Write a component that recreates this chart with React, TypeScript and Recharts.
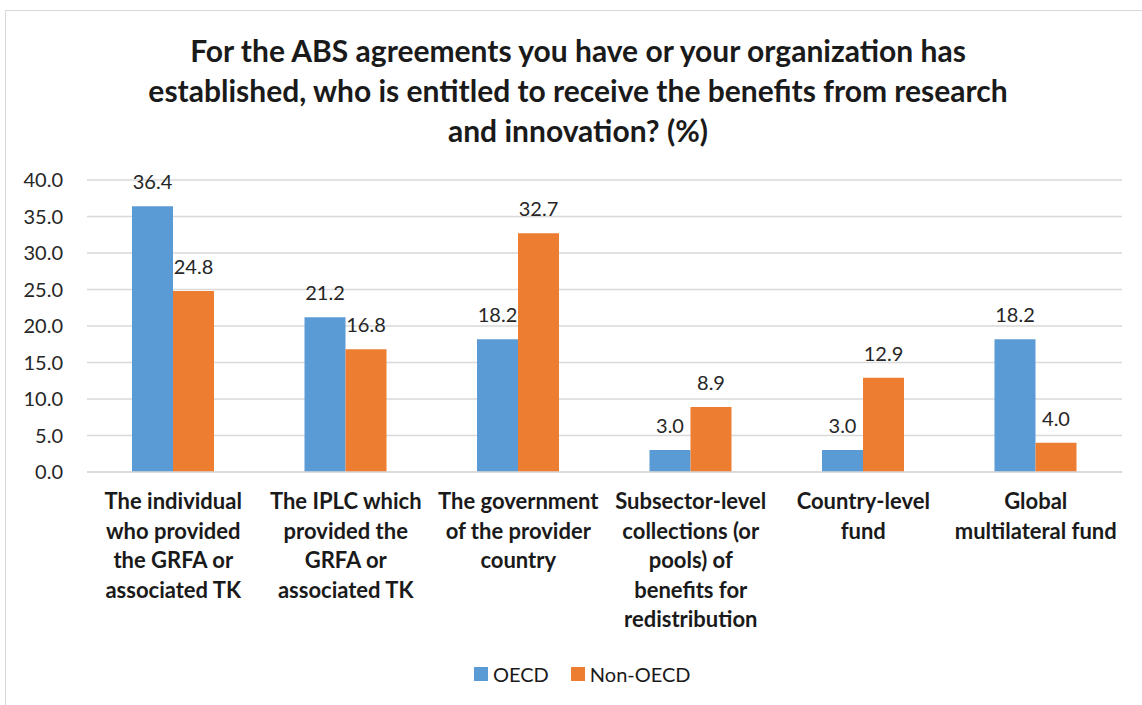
import { BarChart, Bar, XAxis, YAxis, CartesianGrid, LabelList, Legend } from "recharts";

const categories = [
  "The individual\nwho provided\nthe GRFA or\nassociated TK",
  "The IPLC which\nprovided the\nGRFA or\nassociated TK",
  "The government\nof the provider\ncountry",
  "Subsector-level\ncollections (or\npools) of\nbenefits for\nredistribution",
  "Country-level\nfund",
  "Global\nmultilateral fund",
];
const oecd = [36.4, 21.2, 18.2, 3.0, 3.0, 18.2];
const nonOecd = [24.8, 16.8, 32.7, 8.9, 12.9, 4.0];
const yTicks = [0, 5, 10, 15, 20, 25, 30, 35, 40];
const titleLines = [
  "For the ABS agreements you have or your organization has",
  "established, who is entitled to receive the benefits from research",
  "and innovation? (%)",
];

const BLUE = "#5B9BD5";
const ORANGE = "#ED7D31";

const data = categories.map((c, i) => ({ name: c, oecd: oecd[i], nonOecd: nonOecd[i] }));

function CategoryTick(props: any) {
  const { x, y, payload } = props;
  const lines = String(payload.value).split("\n");
  return (
    <text x={x} y={y} textAnchor="middle" fontSize={22} fontWeight={700} fill="#1a1a1a">
      {lines.map((l, i) => (
        <tspan key={i} x={x} dy={i === 0 ? 29 : 29.5}>
          {l}
        </tspan>
      ))}
    </text>
  );
}

function LegendBox() {
  const items = [
    { label: "OECD", color: BLUE },
    { label: "Non-OECD", color: ORANGE },
  ];
  return (
    <div style={{ display: "flex", alignItems: "center", fontSize: 20, color: "#1a1a1a" }}>
      {items.map((it) => (
        <div key={it.label} style={{ display: "flex", alignItems: "center", marginRight: 22 }}>
          <span style={{ width: 14, height: 14, background: it.color, marginRight: 5, display: "inline-block" }} />
          <span>{it.label}</span>
        </div>
      ))}
    </div>
  );
}

export default function App() {
  return (
    <div
      style={{
        position: "fixed",
        left: 0,
        top: 0,
        width: 1142,
        height: 705,
        overflow: "hidden",
        background: "#fff",
        fontFamily: "Lato, 'Open Sans', sans-serif",
      }}
    >
      <div
        style={{
          position: "absolute",
          left: 5,
          top: 10,
          width: 1160,
          height: 720,
          border: "1.5px solid #d9d9d9",
        }}
      />
      <div
        style={{
          position: "absolute",
          left: 0,
          top: 30,
          width: 1156,
          textAlign: "center",
          fontSize: 30,
          fontWeight: 700,
          lineHeight: "40px",
          color: "#1a1a1a",
        }}
      >
        {titleLines.map((t) => (
          <div key={t}>{t}</div>
        ))}
      </div>
      <div style={{ position: "absolute", left: 0, top: 0 }}>
        <BarChart
          width={1142}
          height={705}
          data={data}
          margin={{ top: 180, right: 20, left: 27, bottom: 83 }}
          barSize={41}
          barGap={0}
        >
          <CartesianGrid vertical={false} stroke="#d9d9d9" strokeWidth={1.3} />
          <XAxis
            dataKey="name"
            interval={0}
            tickLine={false}
            axisLine={{ stroke: "#d9d9d9", strokeWidth: 1.3 }}
            tick={<CategoryTick />}
            height={150}
          />
          <YAxis
            width={60}
            domain={[0, 40]}
            ticks={yTicks}
            interval={0}
            tickLine={false}
            axisLine={false}
            tickMargin={18}
            tickFormatter={(v: number) => v.toFixed(1)}
            tick={{ fontSize: 20, fill: "#262626" }}
          />
          <Legend
            content={<LegendBox />}
            height={0}
            wrapperStyle={{ position: "absolute", left: 474, top: 662, width: "auto", height: 0, overflow: "visible" }}
          />
          <Bar dataKey="oecd" name="OECD" fill={BLUE} isAnimationActive={false}>
            <LabelList
              dataKey="oecd"
              position="top"
              offset={17}
              formatter={(v: any) => Number(v).toFixed(1)}
              style={{ fontSize: 20, fill: "#262626" }}
            />
          </Bar>
          <Bar dataKey="nonOecd" name="Non-OECD" fill={ORANGE} isAnimationActive={false}>
            <LabelList
              dataKey="nonOecd"
              position="top"
              offset={17}
              formatter={(v: any) => Number(v).toFixed(1)}
              style={{ fontSize: 20, fill: "#262626" }}
            />
          </Bar>
        </BarChart>
      </div>
    </div>
  );
}
